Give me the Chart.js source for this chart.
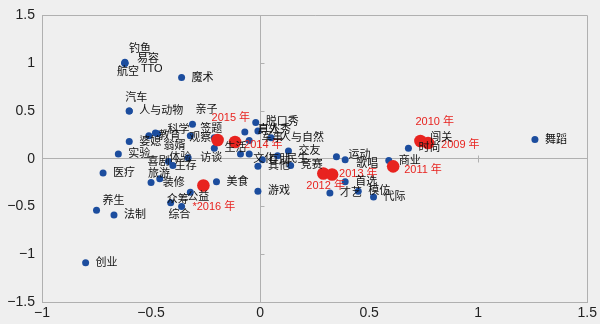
<!DOCTYPE html>
<html>
<head>
<meta charset="utf-8">
<script src="https://cdn.jsdelivr.net/npm/chart.js@4"></script>
<style>
html, body { margin: 0; padding: 0; background: #fff; }
#wrap { width: 600px; height: 328px; }
</style>
</head>
<body>
<div id="wrap"><canvas id="myChart" width="600" height="328"></canvas></div>
<script>
// 节目类型
const themes = ['钓鱼', '易容', 'TTO', '航空', '魔术', '汽车', '人与动物', '亲子', '科学', '教育',
    '翁婿', '签题', '观察', '婆媳', '实验', '喜剧', '体验', '生存', '访谈', '医疗',
    '旅游', '装修', '美食', '公益', '众筹', '综合', '养生', '法制', '创业', '脱口秀',
    '户外', '真人秀', '军事', '人与自然', '生活', '文化', '互助', '民生', '交友', '其他',
    '竞赛', '游戏', '运动', '歌唱', '首选', '才艺', '模仿', '代际', '商业', '时尚',
    '闯关', '舞蹈'];
const themeX = [-0.62, -0.62, -0.62, -0.62, -0.36, -0.6, -0.6, -0.31, -0.48, -0.51,
    -0.47, -0.32, -0.21, -0.6, -0.65, -0.42, -0.33, -0.4, -0.21, -0.72,
    -0.5, -0.46, -0.2, -0.32, -0.41, -0.36, -0.75, -0.67, -0.8, -0.02,
    -0.07, -0.01, -0.05, 0.05, -0.09, -0.05, 0.01, 0.08, 0.13, -0.01,
    0.14, -0.01, 0.35, 0.39, 0.39, 0.32, 0.45, 0.52, 0.59, 0.68,
    0.73, 1.26];
const themeY = [1.01, 1.0, 1.0, 1.0, 0.85, 0.5, 0.5, 0.36, 0.27, 0.24,
    0.26, 0.24, 0.22, 0.18, 0.05, -0.03, 0.01, -0.07, 0.11, -0.15,
    -0.25, -0.21, -0.24, -0.35, -0.46, -0.5, -0.54, -0.59, -1.09, 0.38,
    0.28, 0.29, 0.19, 0.22, 0.05, 0.05, -0.01, 0.03, 0.08, -0.08,
    -0.07, -0.34, 0.02, -0.01, -0.24, -0.36, -0.34, -0.4, -0.02, 0.11,
    0.19, 0.2];

// 年份
const years = ['2009 年', '2010 年', '2011 年', '2012 年', '2013 年', '2014 年', '2015 年', '*2016 年'];
const yearX = [0.77, 0.735, 0.61, 0.29, 0.33, -0.115, -0.195, -0.26];
const yearY = [0.165, 0.185, -0.08, -0.155, -0.165, 0.175, 0.196, -0.28];

const xTicks = [-1, -0.5, 0, 0.5, 1, 1.5];
const yTicks = [-1.5, -1, -0.5, 0, 0.5, 1, 1.5];

// 标签偏移 (px)
const labelOffsets = {
    '钓鱼': [4, -13], '易容': [12, -4], 'TTO': [16, 6], '航空': [-8, 9], '汽车': [-4, -13],
    '亲子': [3, -14], '科学': [12, -3], '翁婿': [6, 12], '签题': [10, -7], '观察': [-25, 0],
    '喜剧': [-21, 0], '体验': [-19, 0], '生存': [2, 1], '访谈': [-14, 10], '旅游': [-3, -9],
    '装修': [3, 4], '公益': [-3, 5], '众筹': [-4, -3], '综合': [-13, 9], '养生': [6, -9],
    '户外': [13, -2], '真人秀': [0, -1], '军事': [12, -3], '人与自然': [9, 0], '生活': [-16, -6],
    '文化': [4, 5], '互助': [6, 0], '民生': [9, 3], '运动': [12, -2], '歌唱': [11, 4],
    '闯关': [11, -3],
    '2009 年': [13, 2], '2010 年': [-5, -19], '2011 年': [11, 4], '2012 年': [-17, 12],
    '2013 年': [7, 0], '2014 年': [9, 3], '2015 年': [-6, -22], '*2016 年': [-11, 22]
};

const bgPlugin = {
    id: 'bg',
    beforeDraw(chart) {
        const c = chart.ctx;
        c.save();
        c.fillStyle = '#efefef';
        c.fillRect(0, 0, chart.width, 324);
        c.restore();
    }
};

const centerTicks = {
    id: 'centerTicks',
    beforeDatasetsDraw(chart) {
        const c = chart.ctx;
        const x = chart.scales.x, y = chart.scales.y;
        const x0 = Math.round(x.getPixelForValue(0)) + 0.5;
        const y0 = Math.round(y.getPixelForValue(0)) + 0.5;
        c.save();
        c.strokeStyle = '#b0b0b0';
        c.lineWidth = 1;
        yTicks.forEach(v => {
            if (v === 0 || v === yTicks[0] || v === yTicks[yTicks.length - 1]) return;
            const py = Math.round(y.getPixelForValue(v)) + 0.5;
            c.beginPath(); c.moveTo(x0, py); c.lineTo(x0 + 4, py); c.stroke();
        });
        xTicks.forEach(v => {
            if (v === 0 || v === xTicks[0] || v === xTicks[xTicks.length - 1]) return;
            const px = Math.round(x.getPixelForValue(v)) + 0.5;
            c.beginPath(); c.moveTo(px, y0 - 4); c.lineTo(px, y0 + 3); c.stroke();
        });
        c.restore();
    }
};

const pointLabels = {
    id: 'pointLabels',
    afterDatasetsDraw(chart) {
        const c = chart.ctx;
        chart.data.datasets.forEach((ds, di) => {
            const meta = chart.getDatasetMeta(di);
            c.save();
            c.font = '11px "Liberation Sans", "Noto Sans CJK SC", sans-serif';
            c.fillStyle = ds.labelColor;
            c.textAlign = 'left';
            c.textBaseline = 'middle';
            meta.data.forEach((pt, i) => {
                const name = ds.names[i];
                const off = labelOffsets[name] || [10, 0];
                c.fillText(name, pt.x + off[0], pt.y + off[1]);
            });
            c.restore();
        });
    }
};

const gridColor = (ticks) => (ctx) => {
    const v = ctx.tick ? ctx.tick.value : null;
    return (v === 0 || v === ticks[0] || v === ticks[ticks.length - 1]) ? '#b0b0b0' : 'rgba(0,0,0,0)';
};

const ctx = document.getElementById('myChart');
const myChart = new Chart(ctx, {
    type: 'scatter',
    data: {
        datasets: [{
            names: years,
            labelColor: '#e8231f',
            data: years.map((n, i) => ({ x: yearX[i], y: yearY[i] })),
            backgroundColor: '#e8231f',
            borderWidth: 0,
            pointRadius: 6.3,
            pointHoverRadius: 6.3
        }, {
            names: themes,
            labelColor: '#111',
            data: themes.map((n, i) => ({ x: themeX[i], y: themeY[i] })),
            backgroundColor: '#1c4d9e',
            borderWidth: 0,
            pointRadius: 3.5,
            pointHoverRadius: 3.5
        }]
    },
    options: {
        responsive: false,
        animation: false,
        devicePixelRatio: 1,
        layout: { padding: { left: 0, right: 8, top: 14, bottom: 4 } },
        plugins: {
            legend: { display: false },
            tooltip: { enabled: false }
        },
        scales: {
            x: {
                min: -1, max: 1.5,
                afterBuildTicks: s => { s.ticks = xTicks.map(v => ({ value: v })); },
                afterFit: s => { s.height = 22; },
                ticks: {
                    padding: 3,
                    color: '#222',
                    font: { family: '"Liberation Sans", Arial, sans-serif', size: 14 },
                    callback: v => String(v).replace('-', '\u2212')
                },
                grid: { color: gridColor(xTicks), drawTicks: false },
                border: { display: true, color: '#b0b0b0' }
            },
            y: {
                min: -1.5, max: 1.5,
                afterBuildTicks: s => { s.ticks = yTicks.map(v => ({ value: v })); },
                afterFit: s => { s.width = 42; },
                ticks: {
                    padding: 7,
                    color: '#222',
                    font: { family: '"Liberation Sans", Arial, sans-serif', size: 14 },
                    callback: v => String(v).replace('-', '\u2212')
                },
                grid: { color: gridColor(yTicks), drawTicks: false },
                border: { display: true, color: '#b0b0b0' }
            }
        }
    },
    plugins: [bgPlugin, centerTicks, pointLabels]
});
</script>
</body>
</html>
